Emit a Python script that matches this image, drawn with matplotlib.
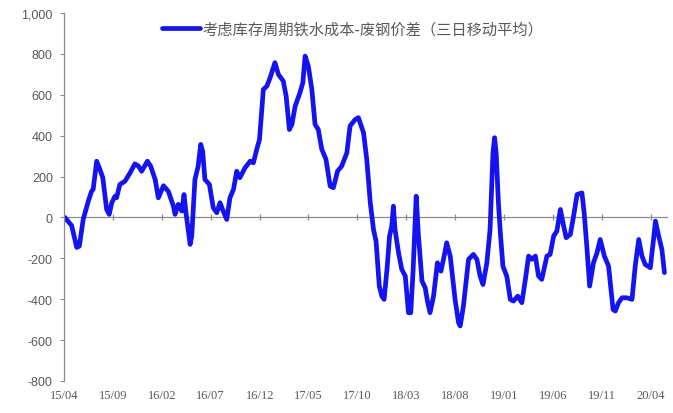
import numpy as np
import pandas as pd
import matplotlib
matplotlib.use('Agg')
import matplotlib.pyplot as plt
import matplotlib.dates as mdates
from matplotlib.ticker import FuncFormatter

# spread series (three-day moving average), sampled at turning points
dates = [
    '2015-04-04', '2015-04-25', '2015-05-11', '2015-05-19', '2015-05-31', '2015-06-16',
    '2015-06-26', '2015-07-01', '2015-07-12', '2015-07-22', '2015-07-31', '2015-08-12',
    '2015-08-20', '2015-08-28', '2015-09-07', '2015-09-12', '2015-09-22', '2015-10-08',
    '2015-10-24', '2015-11-08', '2015-11-19', '2015-11-29', '2015-12-17', '2015-12-27',
    '2016-01-10', '2016-01-20', '2016-02-05', '2016-02-20', '2016-03-07', '2016-03-12',
    '2016-03-22', '2016-04-02', '2016-04-09', '2016-04-15', '2016-04-28', '2016-05-03',
    '2016-05-13', '2016-05-23', '2016-05-31', '2016-06-06', '2016-06-13', '2016-06-27',
    '2016-07-09', '2016-07-20', '2016-07-30', '2016-08-09', '2016-08-20', '2016-08-30',
    '2016-09-10', '2016-09-20', '2016-09-30', '2016-10-16', '2016-11-01', '2016-11-11',
    '2016-11-21', '2016-11-30', '2016-12-12', '2016-12-23', '2017-01-02', '2017-01-17',
    '2017-01-28', '2017-02-12', '2017-02-21', '2017-03-03', '2017-03-11', '2017-03-21',
    '2017-04-05', '2017-04-14', '2017-04-21', '2017-05-01', '2017-05-12', '2017-05-22',
    '2017-06-01', '2017-06-12', '2017-06-25', '2017-07-08', '2017-07-18', '2017-07-31',
    '2017-08-13', '2017-08-29', '2017-09-08', '2017-09-24', '2017-10-04', '2017-10-20',
    '2017-10-30', '2017-11-10', '2017-11-20', '2017-11-28', '2017-12-08', '2017-12-16',
    '2017-12-23', '2018-01-01', '2018-01-09', '2018-01-16', '2018-01-21', '2018-01-26',
    '2018-02-06', '2018-02-16', '2018-02-27', '2018-03-09', '2018-03-16', '2018-03-23',
    '2018-04-02', '2018-04-09', '2018-04-20', '2018-04-30', '2018-05-07', '2018-05-15',
    '2018-05-26', '2018-06-07', '2018-06-18', '2018-06-28', '2018-07-06', '2018-07-17',
    '2018-08-01', '2018-08-12', '2018-08-17', '2018-08-27', '2018-09-12', '2018-09-27',
    '2018-10-08', '2018-10-18', '2018-10-27', '2018-11-08', '2018-11-18', '2018-11-27',
    '2018-12-02', '2018-12-07', '2018-12-14', '2018-12-20', '2018-12-28', '2019-01-09',
    '2019-01-20', '2019-01-30', '2019-02-12', '2019-02-25', '2019-03-08', '2019-03-18',
    '2019-03-28', '2019-04-08', '2019-04-18', '2019-04-28', '2019-05-14', '2019-05-24',
    '2019-06-04', '2019-06-14', '2019-06-25', '2019-07-03', '2019-07-13', '2019-07-26',
    '2019-08-05', '2019-08-16', '2019-08-31', '2019-09-07', '2019-09-16', '2019-09-24',
    '2019-10-06', '2019-10-17', '2019-10-27', '2019-11-09', '2019-11-22', '2019-12-06',
    '2019-12-13', '2019-12-23', '2020-01-03', '2020-01-18', '2020-02-03', '2020-02-13',
    '2020-02-24', '2020-03-05', '2020-03-15', '2020-03-31', '2020-04-10', '2020-04-16',
    '2020-04-26', '2020-05-06', '2020-05-14',
]
spread = [
    0, -40, -147, -140, -10, 80,
    128, 137, 275, 235, 194, 39,
    15, 72, 104, 96, 161, 177,
    218, 262, 251, 226, 275, 251,
    186, 96, 155, 128, 55, 15,
    64, 31, 112, 23, -132, -91,
    186, 251, 357, 324, 186, 161,
    47, 23, 72, 31, -10, 96,
    137, 226, 194, 243, 275, 267,
    330, 381, 626, 642, 683, 757,
    699, 667, 593, 430, 455, 544,
    610, 659, 789, 740, 626, 455,
    430, 333, 284, 153, 145, 226,
    251, 316, 447, 479, 488, 414,
    284, 72, -59, -116, -336, -385,
    -401, -254, -91, -42, 55, -59,
    -173, -254, -287, -466, -466, -270,
    104, -91, -311, -344, -409, -466,
    -385, -222, -263, -189, -124, -190,
    -401, -515, -531, -434, -205, -181,
    -205, -287, -328, -222, -59, 316,
    390, 316, 72, -75, -238, -287,
    -401, -409, -385, -417, -303, -189,
    -205, -189, -287, -303, -189, -181,
    -91, -67, 39, -26, -99, -83,
    6, 112, 120, 23, -156, -336,
    -222, -173, -108, -189, -238, -450,
    -458, -417, -393, -393, -401, -238,
    -108, -189, -230, -246, -108, -18,
    -91, -156, -270,
]

tick_dates = ['2015-04-01', '2015-09-01', '2016-02-01', '2016-07-01', '2016-12-01',
              '2017-05-01', '2017-10-01', '2018-03-01', '2018-08-01', '2019-01-01',
              '2019-06-01', '2019-11-01', '2020-04-01']
y_ticks = list(range(-800, 1001, 200))

series_label = '考虑库存周期铁水成本-废钢价差（三日移动平均）'

x = pd.to_datetime(dates)
xt = pd.to_datetime(tick_dates)

fig = plt.figure(figsize=(6.73, 4.14), dpi=100)
ax = fig.add_axes([0.095, 0.0773, 0.898, 0.889])

axis_grey = '#8c8c8c'
label_grey = '#595959'

ax.plot(x, spread, color='#1414f0', lw=3.4, solid_joinstyle='round',
        solid_capstyle='round', label=series_label)

ax.set_ylim(-800, 1000)
ax.set_xlim(pd.Timestamp('2015-04-01'), pd.Timestamp('2020-05-26'))

# zero line acts as the category axis; labels sit at the bottom
ax.axhline(0, color=axis_grey, lw=0.9, zorder=1)
ax.plot(xt, np.zeros(len(xt)), ls='none', marker='|', ms=4, mew=0.9,
        color=axis_grey, zorder=1)

for s in ['top', 'right', 'bottom']:
    ax.spines[s].set_visible(False)
ax.spines['left'].set_color(axis_grey)
ax.spines['left'].set_linewidth(0.9)

ax.set_yticks(y_ticks)
ax.yaxis.set_major_formatter(FuncFormatter(lambda v, p: f'{int(v):,}'))
ax.tick_params(axis='y', direction='out', length=3, width=0.8, color=axis_grey,
               labelcolor=label_grey, labelsize=9, pad=5)
for t in ax.get_yticklabels():
    t.set_family('Liberation Sans')

ax.set_xticks(xt)
ax.xaxis.set_major_formatter(mdates.DateFormatter('%y/%m'))
ax.tick_params(axis='x', length=0, labelcolor=label_grey, labelsize=9, pad=6)
for t in ax.get_xticklabels():
    t.set_family('Liberation Serif')

leg = ax.legend(loc='center', bbox_to_anchor=(0.477, 0.957), frameon=False,
                handlelength=2.5, handletextpad=0.15,
                prop={'family': ['Noto Sans CJK SC', 'DejaVu Sans'], 'size': 11})
for t in leg.get_texts():
    t.set_color(label_grey)

fig.savefig('out.png', dpi=100, facecolor='white')
